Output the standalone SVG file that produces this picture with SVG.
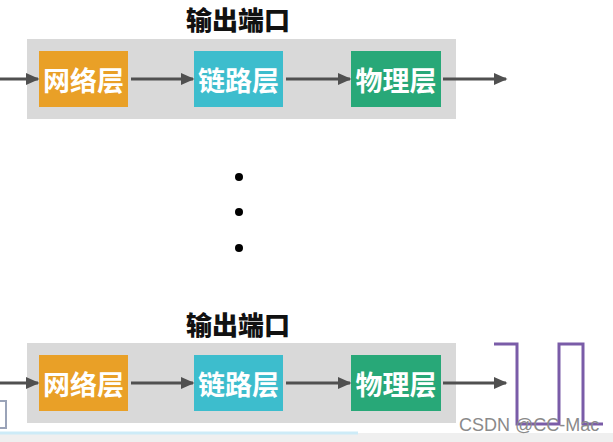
<svg xmlns="http://www.w3.org/2000/svg" width="613" height="442" viewBox="0 0 613 442">
<defs>
<marker id="ah" markerWidth="4.5" markerHeight="4" refX="4" refY="2" orient="auto" markerUnits="strokeWidth" viewBox="0 0 4.5 4">
<path d="M0,0 L4.5,2 L0,4 Z" fill="#505050"/>
</marker>
</defs>
<style>
.port{fill:#d9d9d9}
.title{font-family:"Noto Sans CJK SC","Noto Sans",sans-serif;font-weight:900;font-size:26px;fill:#111;text-anchor:middle}
.lbl{font-family:"Noto Sans CJK SC","Noto Sans",sans-serif;font-weight:bold;font-size:27px;fill:#fff;text-anchor:middle;dominant-baseline:central}
.net{fill:#e9a027}
.link{fill:#3dbdcd}
.phy{fill:#28a878}
.arr{stroke:#505050;stroke-width:3;fill:none;marker-end:url(#ah)}
.dot{fill:#000}
</style>
<rect width="613" height="442" fill="#fff"/>
<rect x="0" y="433" width="613" height="9" fill="#efefef"/>
<rect x="0" y="431.5" width="358" height="3" fill="#cdebf7"/>
<path d="M0,401 H6 V428 H0" fill="none" stroke="#9aa3b8" stroke-width="2"/>

<g id="port1">
<rect class="port" x="27" y="39" width="429" height="80"/>
<text class="title" x="238" y="30">输出端口</text>
</g>
<g id="net1"><rect class="net" x="39" y="51" width="89" height="56"/><text class="lbl" x="83.5" y="79">网络层</text></g>
<g id="link1"><rect class="link" x="194" y="51" width="89" height="56"/><text class="lbl" x="238.5" y="79">链路层</text></g>
<g id="phy1"><rect class="phy" x="351" y="51" width="90" height="56"/><text class="lbl" x="396" y="79">物理层</text></g>

<g id="port2">
<rect class="port" x="27" y="343" width="429" height="80"/>
<text class="title" x="238" y="335">输出端口</text>
</g>
<g id="net2"><rect class="net" x="39" y="355" width="89" height="56"/><text class="lbl" x="83.5" y="383">网络层</text></g>
<g id="link2"><rect class="link" x="194" y="355" width="89" height="56"/><text class="lbl" x="238.5" y="383">链路层</text></g>
<g id="phy2"><rect class="phy" x="351" y="355" width="90" height="56"/><text class="lbl" x="396" y="383">物理层</text></g>

<g id="connectors">
<line class="arr" x1="0" y1="79" x2="38" y2="79"/>
<line class="arr" x1="131" y1="79" x2="193" y2="79"/>
<line class="arr" x1="286" y1="79" x2="350" y2="79"/>
<line class="arr" x1="443" y1="79" x2="506" y2="79"/>
<line class="arr" x1="0" y1="383" x2="38" y2="383"/>
<line class="arr" x1="131" y1="383" x2="193" y2="383"/>
<line class="arr" x1="286" y1="383" x2="350" y2="383"/>
<line class="arr" x1="443" y1="383" x2="506" y2="383"/>
</g>

<g id="ellipsis">
<circle class="dot" cx="239" cy="177" r="4"/>
<circle class="dot" cx="239" cy="212" r="4"/>
<circle class="dot" cx="239" cy="248" r="4"/>
</g>

<g id="signal">
<path d="M494,344 H517 V424 H559 V344 H583 V424 H603" fill="none" stroke="#7a5ca8" stroke-width="3"/>
</g>
<text x="459" y="431" font-family="'Liberation Sans',Arial,sans-serif" font-size="18" fill="#8a8a8a">CSDN @CC-Mac</text>
</svg>
